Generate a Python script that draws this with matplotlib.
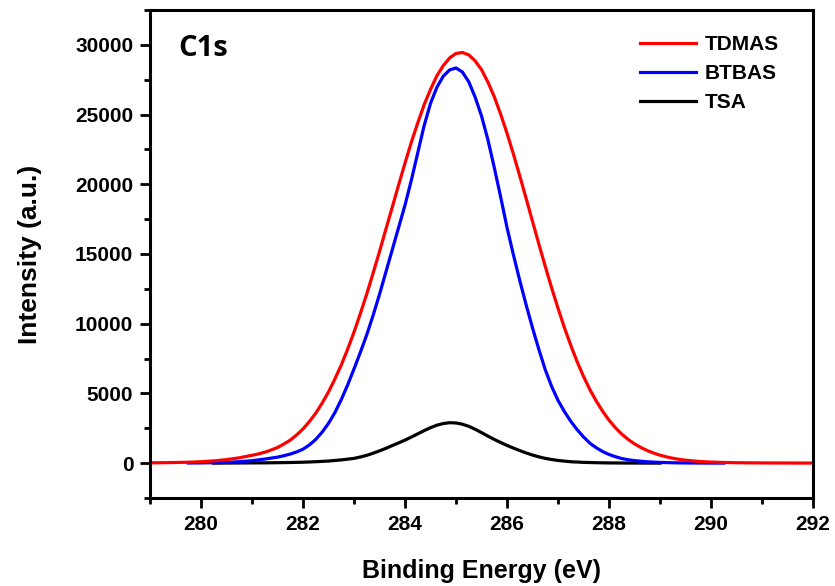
import numpy as np
import matplotlib
matplotlib.use('Agg')
import matplotlib.pyplot as plt
from matplotlib.ticker import MultipleLocator

# C1s XPS spectra
# (0.25 eV steps on the tails, 0.125 eV steps around the peaks)
tdmas_x = np.r_[np.arange(279.0, 280.76, 0.25),
                np.arange(281.0, 289.51, 0.125),
                np.arange(289.75, 292.01, 0.25)]
tdmas_y = [20, 30, 45, 65, 100, 160, 250, 380,
           560, 660, 780, 940, 1120, 1370, 1650, 2020,
           2450, 2980, 3580, 4300, 5100, 6030, 7030, 8170,
           9390, 10730, 12130, 13630, 15170, 16770, 18350, 19960,
           21510, 23020, 24400, 25700, 26800, 27780, 28500, 29060,
           29380, 29450, 29280, 28850, 28220, 27330, 26280, 25030,
           23660, 22170, 20600, 18980, 17340, 15700, 14110, 12570,
           11110, 9720, 8450, 7270, 6220, 5270, 4450, 3720,
           3080, 2540, 2080, 1700, 1380, 1120, 900, 720,
           570, 450, 350, 270, 210,
           125, 75, 45, 30, 20, 15, 10, 8, 5, 5]

btbas_x = np.r_[np.arange(279.75, 281.26, 0.25),
                np.arange(281.5, 288.51, 0.125),
                np.arange(288.75, 290.26, 0.25)]
btbas_y = [8, 15, 30, 55, 100, 175, 290,
           430, 530, 650, 800, 1000, 1300, 1700, 2220, 2850, 3620, 4550,
           5600, 6750,
           7950, 9200, 10600, 12100, 13700, 15300, 16900, 18500,
           20300, 22250, 24200, 25800, 26950, 27750, 28200, 28340,
           28050, 27350, 26250, 24900, 23200, 21200, 19100, 16900,
           14950, 13100, 11350, 9700, 8150, 6700, 5500, 4500,
           3700, 3000, 2400, 1880, 1430, 1100, 830, 620,
           460, 330, 240, 180,
           95, 50, 25, 12, 6, 3, 1]

tsa_x = np.r_[np.arange(280.25, 282.76, 0.25),
              np.arange(283.0, 287.01, 0.125),
              np.arange(287.25, 289.01, 0.25)]
tsa_y = [0, 5, 10, 15, 20, 30, 45, 65, 100, 150, 230,
         340, 440, 560, 710, 880, 1060, 1260, 1450,
         1650, 1870, 2100, 2330, 2540, 2720, 2840, 2900,
         2880, 2790, 2640, 2430, 2190, 1940, 1700, 1480,
         1270, 1080, 900, 730, 580, 450, 340, 260,
         190,
         100, 55, 30, 15, 8, 4, 2, 0]

labels = ['TDMAS', 'BTBAS', 'TSA']
colors = ['#ff0000', '#0000ff', '#000000']

plt.rcParams['font.family'] = ['Liberation Sans', 'DejaVu Sans']
plt.rcParams['font.weight'] = 'bold'

fig = plt.figure(figsize=(8.35, 5.86), dpi=100)
ax = fig.add_axes([0.1796, 0.1502, 0.7941, 0.8328])

# black under blue under red, like the original
l3, = ax.plot(tsa_x, tsa_y, color=colors[2], lw=2.3, label=labels[2])
l2, = ax.plot(btbas_x, btbas_y, color=colors[1], lw=2.3, label=labels[1])
l1, = ax.plot(tdmas_x, tdmas_y, color=colors[0], lw=2.3, label=labels[0])

ax.set_xlim(279, 292)
ax.set_ylim(-2500, 32500)
ax.xaxis.set_major_locator(MultipleLocator(2))
ax.xaxis.set_minor_locator(MultipleLocator(1))
ax.yaxis.set_major_locator(MultipleLocator(5000))
ax.yaxis.set_minor_locator(MultipleLocator(2500))

for s in ax.spines.values():
    s.set_linewidth(2.2)
ax.tick_params(which='both', direction='out', width=2.0, top=False, right=False)
ax.tick_params(which='major', length=7, labelsize=15, pad=5)
ax.tick_params(which='minor', length=4)
for t in ax.get_xticklabels() + ax.get_yticklabels():
    t.set_fontweight('bold')

ax.set_xlabel('Binding Energy (eV)', fontsize=18, fontweight='bold', labelpad=18)
ax.set_ylabel('Intensity (a.u.)', fontsize=19, fontweight='bold', labelpad=24)

ax.text(0.042, 0.922, 'C1s', transform=ax.transAxes, fontsize=21,
        fontweight='bold', family=['Open Sans', 'DejaVu Sans'], va='center')

leg = ax.legend(handles=[l1, l2, l3], loc='upper left',
                bbox_to_anchor=(0.739, 0.948), frameon=False, fontsize=15,
                handlelength=2.7, handletextpad=0.4, labelspacing=0.47,
                borderpad=0, borderaxespad=0)
for t in leg.get_texts():
    t.set_fontweight('bold')

fig.savefig('out.png', dpi=100)
plt.close(fig)
